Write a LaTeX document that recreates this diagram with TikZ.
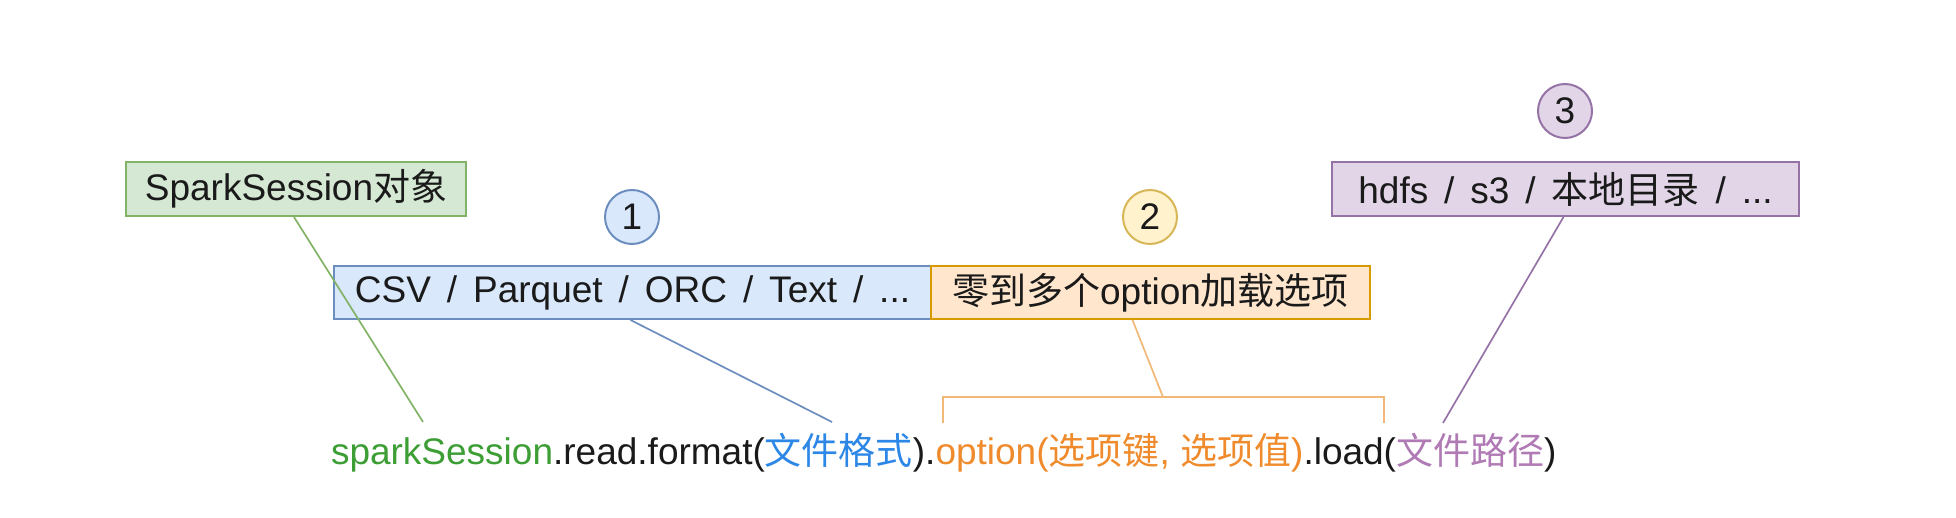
\documentclass[tikz,border=0pt]{standalone}
\usepackage{fontspec}
\setmainfont{Liberation Sans}
\newfontfamily\boxfont{Liberation Sans}[WordSpace=1.55]
\newfontfamily\cjk{Noto Sans CJK SC}
\definecolor{gfill}{HTML}{D5E8D4}
\definecolor{gdraw}{HTML}{82B366}
\definecolor{bfill}{HTML}{DAE8FC}
\definecolor{bdraw}{HTML}{6C8EBF}
\definecolor{ofill}{HTML}{FFE6CC}
\definecolor{odraw}{HTML}{D79B00}
\definecolor{yfill}{HTML}{FFF2CC}
\definecolor{ydraw}{HTML}{D6B656}
\definecolor{pfill}{HTML}{E1D5E7}
\definecolor{pdraw}{HTML}{9673A6}
\definecolor{cgreen}{HTML}{3D9E35}
\definecolor{cblue}{HTML}{2D87E6}
\definecolor{corange}{HTML}{EF8B2C}
\definecolor{cpurple}{HTML}{B07AB4}
\definecolor{cblack}{HTML}{1A1A1A}
\definecolor{oline}{HTML}{F2B878}
\begin{document}
\begin{tikzpicture}[x=1pt,y=-1pt,
  box/.style={draw, line width=2pt, inner sep=0pt, font=\boxfont\fontsize{37}{40}\selectfont, text=cblack},
  circ/.style={circle, draw, line width=2pt, inner sep=0pt, minimum size=54pt, font=\fontsize{37}{40}\selectfont, text=cblack},
  code/.style={inner sep=0pt, outer sep=0pt, anchor=base west, font=\fontsize{37}{40}\selectfont, text=cblack},
  conn/.style={line width=1.7pt}
]
\useasboundingbox (0,0) rectangle (1956,518);
% boxes
\node[box, fill=gfill, draw=gdraw, minimum width=340pt, minimum height=54pt] (ss) at (296,189) {SparkSession{\cjk 对象}};
\node[box, fill=bfill, draw=bdraw, minimum width=597pt, minimum height=53pt] (fmt) at (632.5,292.5) {CSV / Parquet / ORC / Text / ...};
\node[box, fill=ofill, draw=odraw, minimum width=439pt, minimum height=53pt] (opt) at (1150.5,292.5) {{\cjk 零到多个}option{\cjk 加载选项}};
\node[box, fill=pfill, draw=pdraw, minimum width=467pt, minimum height=54pt] (path) at (1565.5,189) {hdfs / s3 / {\cjk 本地目录} / ...};
% circles
\node[circ, fill=bfill, draw=bdraw] (n1) at (632,217) {1};
\node[circ, fill=yfill, draw=ydraw] (n2) at (1150,217) {2};
\node[circ, fill=pfill, draw=pdraw] (n3) at (1565,111) {3};
% code line
\node[code, text=cgreen] (c1) at (331,464) {sparkSession};
\node[code] (c2) at (c1.base east) {.read.format(};
\node[code, text=cblue] (c3) at (c2.base east) {\cjk 文件格式};
\node[code] (c4) at (c3.base east) {).};
\node[code, text=corange] (c5) at (c4.base east) {option({\cjk 选项键}, {\cjk 选项值})};
\node[code] (c6) at (c5.base east) {.load(};
\node[code, text=cpurple] (c7) at (c6.base east) {\cjk 文件路径};
\node[code] (c8) at (c7.base east) {)};
% connector ends
\coordinate (e1) at (423,422);
\coordinate (e2) at (832,422);
\coordinate (e3) at (1443,423);
\coordinate (bL) at (943,423);
\coordinate (bR) at (1384,423);
\coordinate (bM) at (1163,397);
% connectors
\draw[conn, draw=gdraw] ([xshift=-2pt]ss.south) -- (e1);
\draw[conn, draw=bdraw] ([xshift=-2pt]fmt.south) -- (e2);
\draw[conn, draw=pdraw] ([xshift=-2pt]path.south) -- (e3);
\draw[conn, draw=oline] ([xshift=-18pt]opt.south) -- (bM);
\draw[conn, draw=oline] (bL) -- (bL |- bM) -- (bR |- bM) -- (bR);
\end{tikzpicture}
\end{document}
